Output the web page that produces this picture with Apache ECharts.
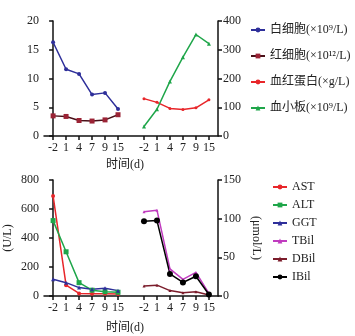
<!DOCTYPE html>
<html>
<head>
<meta charset="utf-8">
<script src="https://cdn.jsdelivr.net/npm/echarts@6/dist/echarts.min.js"></script>
<style>
  html, body { margin: 0; padding: 0; background: #fff; }
  #chart { width: 355px; height: 336px; }
</style>
</head>
<body>
<div id="chart"></div>
<script>
// Sampling days, shown twice per panel (left group and right group)
const dayLabels = ['-2', '1', '4', '7', '9', '15'];

// Blood counts (upper panel)
const wbc = [16.3, 11.6, 10.8, 7.2, 7.5, 4.7];      // 白细胞 ×10⁹/L, left axis
const rbc = [3.5, 3.4, 2.7, 2.6, 2.8, 3.7];         // 红细胞 ×10¹²/L, left axis
const hgb = [130, 117, 96, 92, 98, 126];            // 血红蛋白 g/L, right axis
const plt = [33, 93, 190, 274, 353, 321];           // 血小板 ×10⁹/L, right axis

// Liver function (lower panel)
const ast = [690, 75, 18, 15, 15, 14];              // U/L
const alt = [520, 305, 92, 40, 30, 26];             // U/L
const ggt = [115, 92, 58, 47, 53, 37];              // U/L
const tbil = [109, 111, 35, 21.5, 30.5, 3.3];       // μmol/L
const dbil = [13, 14, 7, 4.3, 5.5, 1.2];            // μmol/L
const ibil = [96.5, 97.5, 28.5, 17.5, 25.5, 2];     // μmol/L

// Axis ticks
const topLeftTicks = [0, 5, 10, 15, 20];
const topRightTicks = [0, 100, 200, 300, 400];
const botLeftTicks = [0, 200, 400, 600, 800];
const botRightTicks = [0, 50, 100, 150];

// Slot positions on the shared x axis: group A uses 0..5, group B uses 7..12
const slotsA = dayLabels.map((_, i) => i);
const slotsB = dayLabels.map((_, i) => i + 7);
const allSlots = slotsA.concat(slotsB);
const slotLabel = v => {
  const i = Math.round(v);
  if (i >= 0 && i <= 5) return dayLabels[i];
  if (i >= 7 && i <= 12) return dayLabels[i - 7];
  return '';
};
const pair = (slots, vals) => vals.map((v, i) => [slots[i], v]);

const SERIF = "'Liberation Serif', 'Noto Sans CJK SC', serif";
const txt = { fontFamily: SERIF, fontSize: 12, color: '#222' };
const axisLine = { show: true, lineStyle: { color: '#111', width: 1.5 } };
const axisTick = { show: true, length: 4, lineStyle: { color: '#111', width: 1.5 } };

function xAxisFor(gridIndex, gap) {
  return {
    type: 'value', gridIndex, min: -0.7, max: 12.7,
    axisLine, splitLine: { show: false },
    axisTick: Object.assign({}, axisTick, { customValues: allSlots }),
    axisLabel: Object.assign({}, txt, { customValues: allSlots, formatter: slotLabel, margin: 6 }),
    name: '时间(d)', nameLocation: 'middle', nameGap: gap,
    nameTextStyle: Object.assign({}, txt, { padding: [0, 12, 0, 0] })
  };
}
function yAxisFor(gridIndex, pos, ticks, extra) {
  return Object.assign({
    type: 'value', gridIndex, position: pos,
    min: ticks[0], max: ticks[ticks.length - 1], interval: ticks[1] - ticks[0],
    axisLine, axisTick, splitLine: { show: false },
    axisLabel: Object.assign({}, txt, { margin: 5 })
  }, extra || {});
}
function line(name, data, color, x, y, symbol, size, lineColor) {
  return {
    name, type: 'line', xAxisIndex: x, yAxisIndex: y, data,
    symbol, symbolSize: size, showSymbol: true,
    lineStyle: { color: lineColor || color, width: 1.5 },
    itemStyle: { color },
    animation: false
  };
}

const chart = echarts.init(document.getElementById('chart'), null, { renderer: 'canvas' });
chart.setOption({
  backgroundColor: '#fff',
  animation: false,
  grid: [
    { left: 44, right: 137, top: 21, bottom: 200 },
    { left: 44, right: 137, top: 180, bottom: 40 }
  ],
  xAxis: [xAxisFor(0, 23), xAxisFor(1, 26)],
  yAxis: [
    yAxisFor(0, 'left', topLeftTicks),
    yAxisFor(0, 'right', topRightTicks),
    yAxisFor(1, 'left', botLeftTicks, {
      name: '(U/L)', nameLocation: 'middle', nameGap: 30,
      nameTextStyle: Object.assign({}, txt)
    }),
    yAxisFor(1, 'right', botRightTicks, {
      name: '(μmol/L)', nameLocation: 'middle', nameGap: 32, nameRotate: -90,
      nameTextStyle: Object.assign({}, txt)
    })
  ],
  legend: [
    {
      left: 245, top: 19, orient: 'vertical', itemGap: 14,
      itemWidth: 14, itemHeight: 6,
      textStyle: Object.assign({}, txt, { fontSize: 12 }),
      data: ['白细胞(×10⁹/L)', '红细胞(×10¹²/L)', '血红蛋白(×g/L)', '血小板(×10⁹/L)']
    },
    {
      left: 267, top: 176, orient: 'vertical', itemGap: 6,
      itemWidth: 14, itemHeight: 6,
      textStyle: Object.assign({}, txt, { fontSize: 12 }),
      data: ['AST', 'ALT', 'GGT', 'TBil', 'DBil', 'IBil']
    }
  ],
  series: [
    line('白细胞(×10⁹/L)', pair(slotsA, wbc), '#2e2f9a', 0, 0, 'circle', 4),
    line('红细胞(×10¹²/L)', pair(slotsA, rbc), '#9b2335', 0, 0, 'rect', 5, '#4a1018'),
    line('血红蛋白(×g/L)', pair(slotsB, hgb), '#e8262a', 0, 1, 'circle', 3),
    line('血小板(×10⁹/L)', pair(slotsB, plt), '#1fa64a', 0, 1, 'triangle', 4),

    line('AST', pair(slotsA, ast), '#e8262a', 1, 2, 'circle', 4),
    line('ALT', pair(slotsA, alt), '#1fa64a', 1, 2, 'rect', 5),
    line('GGT', pair(slotsA, ggt), '#2e2f9a', 1, 2, 'triangle', 4),
    line('TBil', pair(slotsB, tbil), '#c03cbf', 1, 3, 'triangle', 3),
    line('DBil', pair(slotsB, dbil), '#7b1c2b', 1, 3, 'triangle', 3),
    line('IBil', pair(slotsB, ibil), '#000000', 1, 3, 'circle', 6)
  ]
});
</script>
</body>
</html>
